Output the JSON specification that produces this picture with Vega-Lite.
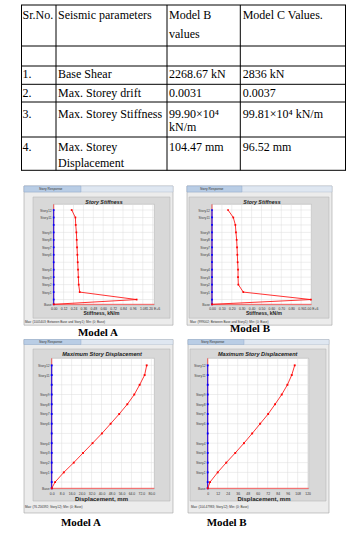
{
"$schema": "https://vega.github.io/schema/vega-lite/v6.json",
"padding": {"left": 20, "top": 4, "right": 0, "bottom": 0},
"background": "white",
"config": {"view": {"stroke": null}, "font": "Liberation Sans",
 "axis": {"labelOverlap": false, "labelFlush": false, "grid": false, "ticks": false, "domain": false, "labelFontSize": 3.4, "labelColor": "#333", "labelBound": false, "tickCount": 40}},
"datasets": {
"resp": [
{"m":"SA","story":"Base","level":0,"v":0,"vy":0},
{"m":"SA","story":"Plinth","level":0.64,"v":1005403,"vy":0},
{"m":"SA","story":"Story1","level":1.64,"v":315000,"vy":0},
{"m":"SA","story":"Story2","level":2.64,"v":303000,"vy":0},
{"m":"SA","story":"Story3","level":3.64,"v":299000,"vy":0},
{"m":"SA","story":"Story4","level":4.64,"v":295000,"vy":0},
{"m":"SA","story":"Story5","level":5.64,"v":291000,"vy":0},
{"m":"SA","story":"Story6","level":6.64,"v":287000,"vy":0},
{"m":"SA","story":"Story7","level":7.64,"v":283000,"vy":0},
{"m":"SA","story":"Story8","level":8.64,"v":279000,"vy":0},
{"m":"SA","story":"Story9","level":9.64,"v":275000,"vy":0},
{"m":"SA","story":"Story10","level":10.64,"v":267000,"vy":0},
{"m":"SA","story":"Story11","level":11.64,"v":263000,"vy":0},
{"m":"SA","story":"Story12","level":12.64,"v":218000,"vy":0},
{"m":"SB","story":"Base","level":0,"v":0,"vy":0},
{"m":"SB","story":"Plinth","level":0.64,"v":999002,"vy":0},
{"m":"SB","story":"Story1","level":1.64,"v":316000,"vy":0},
{"m":"SB","story":"Story2","level":2.64,"v":266000,"vy":0},
{"m":"SB","story":"Story3","level":3.64,"v":263000,"vy":0},
{"m":"SB","story":"Story4","level":4.64,"v":263000,"vy":0},
{"m":"SB","story":"Story5","level":5.64,"v":259000,"vy":0},
{"m":"SB","story":"Story6","level":6.64,"v":256000,"vy":0},
{"m":"SB","story":"Story7","level":7.64,"v":253000,"vy":0},
{"m":"SB","story":"Story8","level":8.64,"v":249000,"vy":0},
{"m":"SB","story":"Story9","level":9.64,"v":242000,"vy":0},
{"m":"SB","story":"Story10","level":10.64,"v":236000,"vy":0},
{"m":"SB","story":"Story11","level":11.64,"v":215000,"vy":0},
{"m":"SB","story":"Story12","level":12.64,"v":162000,"vy":0},
{"m":"DA","story":"Base","level":0,"v":0,"vy":0},
{"m":"DA","story":"Plinth","level":0.64,"v":2.7,"vy":0},
{"m":"DA","story":"Story1","level":1.64,"v":9.7,"vy":0},
{"m":"DA","story":"Story2","level":2.64,"v":17.7,"vy":0},
{"m":"DA","story":"Story3","level":3.64,"v":25.2,"vy":0},
{"m":"DA","story":"Story4","level":4.64,"v":32.8,"vy":0},
{"m":"DA","story":"Story5","level":5.64,"v":40.3,"vy":0},
{"m":"DA","story":"Story6","level":6.64,"v":47.3,"vy":0},
{"m":"DA","story":"Story7","level":7.64,"v":54.2,"vy":0},
{"m":"DA","story":"Story8","level":8.64,"v":60.7,"vy":0},
{"m":"DA","story":"Story9","level":9.64,"v":66.3,"vy":0},
{"m":"DA","story":"Story10","level":10.64,"v":70.6,"vy":0},
{"m":"DA","story":"Story11","level":11.64,"v":74.6,"vy":0},
{"m":"DA","story":"Story12","level":12.64,"v":76.256,"vy":0},
{"m":"DB","story":"Base","level":0,"v":0,"vy":0},
{"m":"DB","story":"Plinth","level":0.64,"v":2.8,"vy":0},
{"m":"DB","story":"Story1","level":1.64,"v":12.0,"vy":0},
{"m":"DB","story":"Story2","level":2.64,"v":22.3,"vy":0},
{"m":"DB","story":"Story3","level":3.64,"v":33.1,"vy":0},
{"m":"DB","story":"Story4","level":4.64,"v":43.5,"vy":0},
{"m":"DB","story":"Story5","level":5.64,"v":53.4,"vy":0},
{"m":"DB","story":"Story6","level":6.64,"v":63.0,"vy":0},
{"m":"DB","story":"Story7","level":7.64,"v":72.6,"vy":0},
{"m":"DB","story":"Story8","level":8.64,"v":80.9,"vy":0},
{"m":"DB","story":"Story9","level":9.64,"v":88.9,"vy":0},
{"m":"DB","story":"Story10","level":10.64,"v":95.7,"vy":0},
{"m":"DB","story":"Story11","level":11.64,"v":100.9,"vy":0},
{"m":"DB","story":"Story12","level":12.64,"v":104.479,"vy":0}
],
"cells": [
{"t":"Sr.No.","cx":1.5,"ly":10},
{"t":"Seismic parameters","cx":37,"ly":10},
{"t":"Model B","cx":148,"ly":10},
{"t":"values","cx":148,"ly":29.3},
{"t":"Model C Values.","cx":221.7,"ly":10},
{"t":"1.","cx":1.5,"ly":69.3},
{"t":"Base Shear","cx":37,"ly":69.3},
{"t":"2268.67 kN","cx":148,"ly":69.3},
{"t":"2836 kN","cx":221.7,"ly":69.3},
{"t":"2.","cx":1.5,"ly":87.7},
{"t":"Max. Storey drift","cx":37,"ly":87.7},
{"t":"0.0031","cx":148,"ly":87.7},
{"t":"0.0037","cx":221.7,"ly":87.7},
{"t":"3.","cx":1.5,"ly":108.5},
{"t":"Max. Storey Stiffness","cx":37,"ly":108.5},
{"t":"99.90×10⁴","cx":148,"ly":108.5},
{"t":"kN/m","cx":148,"ly":122},
{"t":"99.81×10⁴ kN/m","cx":221.7,"ly":108.5},
{"t":"4.","cx":1.5,"ly":141.7},
{"t":"Max. Storey","cx":37,"ly":141.7},
{"t":"Displacement","cx":37,"ly":157.7},
{"t":"104.47 mm","cx":148,"ly":141.7},
{"t":"96.52 mm","cx":221.7,"ly":141.7}
],
"hlines": [{"e":0},{"e":41},{"e":61},{"e":79.3},{"e":97},{"e":132},{"e":165.3}],
"vlines": [{"e":0.5},{"e":35},{"e":146},{"e":219.3},{"e":324.5}]
},
"bounds": "flush",
"spacing": 10,
"vconcat": [
{
"width": 325, "height": 166,
"layer": [
{"data": {"name": "hlines"}, "mark": {"type": "rule", "color": "black", "strokeWidth": 1},
 "encoding": {"y": {"field": "e", "type": "quantitative", "scale": {"domain": [0, 166], "reverse": true, "nice": false, "zero": false}, "axis": null},
  "x": {"datum": 0, "type": "quantitative", "scale": {"domain": [0, 325], "nice": false, "zero": false}, "axis": null}, "x2": {"datum": 325}}},
{"data": {"name": "vlines"}, "mark": {"type": "rule", "color": "black", "strokeWidth": 1},
 "encoding": {"x": {"field": "e", "type": "quantitative", "axis": null},
  "y": {"datum": 0, "type": "quantitative", "axis": null}, "y2": {"datum": 165.3}}},
{"data": {"name": "cells"}, "mark": {"type": "text", "align": "left", "baseline": "middle", "font": "Liberation Serif", "fontSize": 12, "color": "black"},
 "encoding": {"x": {"field": "cx", "type": "quantitative", "axis": null}, "y": {"field": "ly", "type": "quantitative", "axis": null}, "text": {"field": "t"}}}
]
},
{
"spacing": 0,
"vconcat": [
{
"bounds": "flush",
"spacing": 0,
"hconcat": [
{
"width": 160, "height": 158,
"layer": [
{"data": {"values": [{}]}, "mark": {"type": "rect", "fill": "#ececec", "stroke": "#a3a3a3", "strokeWidth": 0.6},
 "encoding": {"x": {"datum": -360000, "type": "quantitative", "scale": {"domain": [-396364, 1543030], "nice": false, "zero": false}}, "x2": {"datum": 1446061},
  "y": {"datum": 15.856, "type": "quantitative", "scale": {"domain": [-4.646, 16.526], "nice": false, "zero": false}}, "y2": {"datum": -2.791}}},
{"data": {"values": [{}]}, "mark": {"type": "rect", "fill": "#d8d8d8", "stroke": "#b0b0b0", "strokeWidth": 0.5},
 "encoding": {"x": {"datum": -250909, "type": "quantitative"}, "x2": {"datum": 1409697}, "y": {"datum": 14.382, "type": "quantitative"}, "y2": {"datum": -1.853}}},
{"data": {"values": [{}]}, "mark": {"type": "rect", "fill": "#dfe7f1", "stroke": "#a9b8c9", "strokeWidth": 0.4},
 "encoding": {"x": {"datum": -360000, "type": "quantitative"}, "x2": {"datum": 1446061}, "y": {"datum": 15.856, "type": "quantitative"}, "y2": {"datum": 15.052}}},
{"data": {"values": [{}]}, "mark": {"type": "rect", "fill": "#b9cde5", "stroke": "#8aa4c4", "strokeWidth": 0.4},
 "encoding": {"x": {"datum": -360000, "type": "quantitative"}, "x2": {"datum": 330909}, "y": {"datum": 15.856, "type": "quantitative"}, "y2": {"datum": 15.052}}},
{"data": {"values": [{}]}, "mark": {"type": "text", "text": "Story Response", "fontSize": 3.3, "color": "#333", "align": "left", "baseline": "middle"},
 "encoding": {"x": {"datum": -178182, "type": "quantitative"}, "y": {"datum": 15.45, "type": "quantitative"}}},
{"data": {"values": [{}]}, "mark": {"type": "rect", "fill": "white", "stroke": "#9a9a9a", "strokeWidth": 0.4},
 "encoding": {"x": {"datum": 0, "type": "quantitative"}, "x2": {"datum": 1219394}, "y": {"datum": -0.09, "type": "quantitative"}, "y2": {"datum": 13.403}}},
{"data": {"values": [{"t":0},{"t":120000},{"t":240000},{"t":360000},{"t":480000},{"t":600000},{"t":720000},{"t":840000},{"t":960000},{"t":1080000},{"t":1200000}]},
 "mark": {"type": "rule", "color": "#dcdcdc", "strokeWidth": 0.5},
 "encoding": {"x": {"field": "t", "type": "quantitative"}, "y": {"datum": -0.09, "type": "quantitative"}, "y2": {"datum": 13.403}}},
{"data": {"name": "resp"}, "transform": [{"filter": "datum.m == 'SA'"}], "mark": {"type": "rule", "color": "#dcdcdc", "strokeWidth": 0.5},
 "encoding": {"y": {"field": "level", "type": "quantitative"}, "x": {"datum": 0, "type": "quantitative"}, "x2": {"datum": 1219394}}},
{"data": {"values": [{}]}, "mark": {"type": "rule", "color": "red", "strokeWidth": 0.6},
 "encoding": {"x": {"datum": 0, "type": "quantitative"}, "y": {"datum": 0, "type": "quantitative"}, "y2": {"datum": 13.403}}},
{"data": {"values": [{}]}, "mark": {"type": "rule", "color": "red", "strokeWidth": 0.6},
 "encoding": {"y": {"datum": 0, "type": "quantitative"}, "x": {"datum": 0, "type": "quantitative"}, "x2": {"datum": 1219394}}},
{"data": {"name": "resp"}, "transform": [{"filter": "datum.m == 'SA'"}], "mark": {"type": "line", "color": "#0000ff", "strokeWidth": 0.9},
 "encoding": {"x": {"field": "vy", "type": "quantitative"}, "y": {"field": "level", "type": "quantitative"}, "order": {"field": "level"}}},
{"data": {"name": "resp"}, "transform": [{"filter": "datum.m == 'SA'"}], "mark": {"type": "point", "shape": "square", "filled": true, "size": 3, "color": "#0000ff", "opacity": 1},
 "encoding": {"x": {"field": "vy", "type": "quantitative"}, "y": {"field": "level", "type": "quantitative"}}},
{"data": {"name": "resp"}, "transform": [{"filter": "datum.m == 'SA'"}], "mark": {"type": "line", "color": "#ff0000", "strokeWidth": 0.8},
 "encoding": {
  "x": {"field": "v", "type": "quantitative", "axis": {"values": [0,120000,240000,360000,480000,600000,720000,840000,960000,1080000,1200000], "tickCount": 40, "labelExpr": "format(datum.value/1000000, '.2f') + (datum.value > 1190000 ? ' E+6' : '')", "title": "Stiffness, kN/m", "offset": -34, "labelOverlap": false, "labelPadding": 1, "titleFontSize": 5, "titleFontWeight": "bold", "titleColor": "#222", "titlePadding": 1.5, "zindex": 2}},
  "y": {"field": "level", "type": "quantitative", "axis": {"values": [0,1.64,2.64,3.64,4.64,6.64,7.64,8.64,9.64,11.64,12.64], "tickCount": 40, "labelExpr": "datum.value < 0.5 ? 'Base' : 'Story' + round(datum.value - 0.64)", "title": null, "offset": -32.7, "labelOverlap": false, "labelPadding": 2.5, "labelColor": "#444", "zindex": 2}},
  "order": {"field": "level"}}},
{"data": {"name": "resp"}, "transform": [{"filter": "datum.m == 'SA'"}], "mark": {"type": "point", "shape": "square", "filled": true, "size": 3, "color": "#ff0000", "opacity": 1},
 "encoding": {"x": {"field": "v", "type": "quantitative"}, "y": {"field": "level", "type": "quantitative"}}},
{"data": {"values": [{}]}, "mark": {"type": "text", "text": "Story Stiffness", "fontSize": 5.3, "fontWeight": "bold", "fontStyle": "italic", "color": "#222", "align": "center", "baseline": "middle"},
 "encoding": {"x": {"datum": 609697, "type": "quantitative"}, "y": {"datum": 13.712, "type": "quantitative"}}},
{"data": {"values": [{}]}, "mark": {"type": "text", "text": "Max: (1005403; Between Base and Story1);  Min: (0; Base)", "fontSize": 3.1, "color": "#333", "align": "left", "baseline": "middle"},
 "encoding": {"x": {"datum": -347879, "type": "quantitative"}, "y": {"datum": -2.322, "type": "quantitative"}}},
{"data": {"values": [{}]}, "mark": {"type": "text", "text": "Model A", "font": "Liberation Serif", "fontSize": 11, "fontWeight": "bold", "color": "black", "align": "center", "baseline": "middle"},
 "encoding": {"x": {"datum": 536970, "type": "quantitative"}, "y": {"datum": -3.801, "type": "quantitative"}}}
]
},
{
"width": 165, "height": 158,
"layer": [
{"data": {"values": [{}]}, "mark": {"type": "rect", "fill": "#ececec", "stroke": "#a3a3a3", "strokeWidth": 0.6},
 "encoding": {"x": {"datum": -252525, "type": "quantitative", "scale": {"domain": [-313131, 1353535], "nice": false, "zero": false}}, "x2": {"datum": 1212121},
  "y": {"datum": 15.856, "type": "quantitative", "scale": {"domain": [-4.646, 16.526], "nice": false, "zero": false}}, "y2": {"datum": -2.791}}},
{"data": {"values": [{}]}, "mark": {"type": "rect", "fill": "#d8d8d8", "stroke": "#b0b0b0", "strokeWidth": 0.5},
 "encoding": {"x": {"datum": -232323, "type": "quantitative"}, "x2": {"datum": 1181818}, "y": {"datum": 14.382, "type": "quantitative"}, "y2": {"datum": -1.853}}},
{"data": {"values": [{}]}, "mark": {"type": "rect", "fill": "#dfe7f1", "stroke": "#a9b8c9", "strokeWidth": 0.4},
 "encoding": {"x": {"datum": -252525, "type": "quantitative"}, "x2": {"datum": 1212121}, "y": {"datum": 15.856, "type": "quantitative"}, "y2": {"datum": 15.052}}},
{"data": {"values": [{}]}, "mark": {"type": "rect", "fill": "#b9cde5", "stroke": "#8aa4c4", "strokeWidth": 0.4},
 "encoding": {"x": {"datum": -252525, "type": "quantitative"}, "x2": {"datum": 303030}, "y": {"datum": 15.856, "type": "quantitative"}, "y2": {"datum": 15.052}}},
{"data": {"values": [{}]}, "mark": {"type": "text", "text": "Story Response", "fontSize": 3.3, "color": "#333", "align": "left", "baseline": "middle"},
 "encoding": {"x": {"datum": -121212, "type": "quantitative"}, "y": {"datum": 15.45, "type": "quantitative"}}},
{"data": {"values": [{}]}, "mark": {"type": "rect", "fill": "white", "stroke": "#9a9a9a", "strokeWidth": 0.4},
 "encoding": {"x": {"datum": 0, "type": "quantitative"}, "x2": {"datum": 1005000}, "y": {"datum": -0.09, "type": "quantitative"}, "y2": {"datum": 13.403}}},
{"data": {"values": [{"t":0},{"t":100000},{"t":200000},{"t":300000},{"t":400000},{"t":500000},{"t":600000},{"t":700000},{"t":800000},{"t":900000},{"t":1000000}]},
 "mark": {"type": "rule", "color": "#dcdcdc", "strokeWidth": 0.5},
 "encoding": {"x": {"field": "t", "type": "quantitative"}, "y": {"datum": -0.09, "type": "quantitative"}, "y2": {"datum": 13.403}}},
{"data": {"name": "resp"}, "transform": [{"filter": "datum.m == 'SB'"}], "mark": {"type": "rule", "color": "#dcdcdc", "strokeWidth": 0.5},
 "encoding": {"y": {"field": "level", "type": "quantitative"}, "x": {"datum": 0, "type": "quantitative"}, "x2": {"datum": 1005000}}},
{"data": {"values": [{}]}, "mark": {"type": "rule", "color": "red", "strokeWidth": 0.6},
 "encoding": {"x": {"datum": 0, "type": "quantitative"}, "y": {"datum": 0, "type": "quantitative"}, "y2": {"datum": 13.403}}},
{"data": {"values": [{}]}, "mark": {"type": "rule", "color": "red", "strokeWidth": 0.6},
 "encoding": {"y": {"datum": 0, "type": "quantitative"}, "x": {"datum": 0, "type": "quantitative"}, "x2": {"datum": 1005000}}},
{"data": {"name": "resp"}, "transform": [{"filter": "datum.m == 'SB'"}], "mark": {"type": "line", "color": "#0000ff", "strokeWidth": 0.9},
 "encoding": {"x": {"field": "vy", "type": "quantitative"}, "y": {"field": "level", "type": "quantitative"}, "order": {"field": "level"}}},
{"data": {"name": "resp"}, "transform": [{"filter": "datum.m == 'SB'"}], "mark": {"type": "point", "shape": "square", "filled": true, "size": 3, "color": "#0000ff", "opacity": 1},
 "encoding": {"x": {"field": "vy", "type": "quantitative"}, "y": {"field": "level", "type": "quantitative"}}},
{"data": {"name": "resp"}, "transform": [{"filter": "datum.m == 'SB'"}], "mark": {"type": "line", "color": "#ff0000", "strokeWidth": 0.8},
 "encoding": {
  "x": {"field": "v", "type": "quantitative", "axis": {"values": [0,100000,200000,300000,400000,500000,600000,700000,800000,900000,1000000], "tickCount": 40, "labelExpr": "format(datum.value/1000000, '.2f') + (datum.value > 990000 ? ' E+6' : '')", "title": "Stiffness, kN/m", "offset": -34, "labelOverlap": false, "labelPadding": 1, "titleFontSize": 5, "titleFontWeight": "bold", "titleColor": "#222", "titlePadding": 1.5, "zindex": 2}},
  "y": {"field": "level", "type": "quantitative", "axis": {"values": [0,1.64,2.64,3.64,4.64,6.64,7.64,8.64,9.64,11.64,12.64], "tickCount": 40, "labelExpr": "datum.value < 0.5 ? 'Base' : 'Story' + round(datum.value - 0.64)", "title": null, "offset": -31, "labelOverlap": false, "labelPadding": 2.5, "labelColor": "#444", "zindex": 2}},
  "order": {"field": "level"}}},
{"data": {"name": "resp"}, "transform": [{"filter": "datum.m == 'SB'"}], "mark": {"type": "point", "shape": "square", "filled": true, "size": 3, "color": "#ff0000", "opacity": 1},
 "encoding": {"x": {"field": "v", "type": "quantitative"}, "y": {"field": "level", "type": "quantitative"}}},
{"data": {"values": [{}]}, "mark": {"type": "text", "text": "Story Stiffness", "fontSize": 5.3, "fontWeight": "bold", "fontStyle": "italic", "color": "#222", "align": "center", "baseline": "middle"},
 "encoding": {"x": {"datum": 505051, "type": "quantitative"}, "y": {"datum": 13.712, "type": "quantitative"}}},
{"data": {"values": [{}]}, "mark": {"type": "text", "text": "Max: (999002; Between Base and Story1);  Min: (0; Base)", "fontSize": 3.1, "color": "#333", "align": "left", "baseline": "middle"},
 "encoding": {"x": {"datum": -222222, "type": "quantitative"}, "y": {"datum": -2.322, "type": "quantitative"}}},
{"data": {"values": [{}]}, "mark": {"type": "text", "text": "Model B", "font": "Liberation Serif", "fontSize": 11, "fontWeight": "bold", "color": "black", "align": "center", "baseline": "middle"},
 "encoding": {"x": {"datum": 383838, "type": "quantitative"}, "y": {"datum": -3.306, "type": "quantitative"}}}
]
}
]
},
{
"bounds": "flush",
"spacing": 0,
"hconcat": [
{
"width": 160, "height": 197,
"layer": [
{"data": {"values": [{}]}, "mark": {"type": "rect", "fill": "#ececec", "stroke": "#a3a3a3", "strokeWidth": 0.6},
 "encoding": {"x": {"datum": -22.236, "type": "quantitative", "scale": {"domain": [-24.645, 103.797], "nice": false, "zero": false}}, "x2": {"datum": 97.375},
  "y": {"datum": 15.294, "type": "quantitative", "scale": {"domain": [-4.899, 15.346], "nice": false, "zero": false}}, "y2": {"datum": -2.535}}},
{"data": {"values": [{}]}, "mark": {"type": "rect", "fill": "#d8d8d8", "stroke": "#b0b0b0", "strokeWidth": 0.5},
 "encoding": {"x": {"datum": -15.012, "type": "quantitative"}, "x2": {"datum": 94.967}, "y": {"datum": 14.32, "type": "quantitative"}, "y2": {"datum": -1.302}}},
{"data": {"values": [{}]}, "mark": {"type": "rect", "fill": "#dfe7f1", "stroke": "#a9b8c9", "strokeWidth": 0.4},
 "encoding": {"x": {"datum": -22.236, "type": "quantitative"}, "x2": {"datum": 97.375}, "y": {"datum": 15.294, "type": "quantitative"}, "y2": {"datum": 14.78}}},
{"data": {"values": [{}]}, "mark": {"type": "rect", "fill": "#b9cde5", "stroke": "#8aa4c4", "strokeWidth": 0.4},
 "encoding": {"x": {"datum": -22.236, "type": "quantitative"}, "x2": {"datum": 23.521}, "y": {"datum": 15.294, "type": "quantitative"}, "y2": {"datum": 14.78}}},
{"data": {"values": [{}]}, "mark": {"type": "text", "text": "Story Response", "fontSize": 3.3, "color": "#333", "align": "left", "baseline": "middle"},
 "encoding": {"x": {"datum": -10.195, "type": "quantitative"}, "y": {"datum": 15.037, "type": "quantitative"}}},
{"data": {"values": [{}]}, "mark": {"type": "rect", "fill": "white", "stroke": "#9a9a9a", "strokeWidth": 0.4},
 "encoding": {"x": {"datum": 0, "type": "quantitative"}, "x2": {"datum": 82.363}, "y": {"datum": -0.069, "type": "quantitative"}, "y2": {"datum": 13.362}}},
{"data": {"values": [{"t":0},{"t":8},{"t":16},{"t":24},{"t":32},{"t":40},{"t":48},{"t":56},{"t":64},{"t":72},{"t":80}]},
 "mark": {"type": "rule", "color": "#dcdcdc", "strokeWidth": 0.5},
 "encoding": {"x": {"field": "t", "type": "quantitative"}, "y": {"datum": -0.069, "type": "quantitative"}, "y2": {"datum": 13.362}}},
{"data": {"name": "resp"}, "transform": [{"filter": "datum.m == 'DA'"}], "mark": {"type": "rule", "color": "#dcdcdc", "strokeWidth": 0.5},
 "encoding": {"y": {"field": "level", "type": "quantitative"}, "x": {"datum": 0, "type": "quantitative"}, "x2": {"datum": 82.363}}},
{"data": {"values": [{}]}, "mark": {"type": "rule", "color": "red", "strokeWidth": 0.6},
 "encoding": {"x": {"datum": 0, "type": "quantitative"}, "y": {"datum": 0, "type": "quantitative"}, "y2": {"datum": 13.362}}},
{"data": {"values": [{}]}, "mark": {"type": "rule", "color": "red", "strokeWidth": 0.6},
 "encoding": {"y": {"datum": 0, "type": "quantitative"}, "x": {"datum": 0, "type": "quantitative"}, "x2": {"datum": 82.363}}},
{"data": {"name": "resp"}, "transform": [{"filter": "datum.m == 'DA'"}], "mark": {"type": "line", "color": "#0000ff", "strokeWidth": 0.9},
 "encoding": {"x": {"field": "vy", "type": "quantitative"}, "y": {"field": "level", "type": "quantitative"}, "order": {"field": "level"}}},
{"data": {"name": "resp"}, "transform": [{"filter": "datum.m == 'DA'"}], "mark": {"type": "point", "shape": "square", "filled": true, "size": 3.5, "color": "#0000ff", "opacity": 1},
 "encoding": {"x": {"field": "vy", "type": "quantitative"}, "y": {"field": "level", "type": "quantitative"}}},
{"data": {"name": "resp"}, "transform": [{"filter": "datum.m == 'DA'"}], "mark": {"type": "line", "color": "#ff0000", "strokeWidth": 0.8},
 "encoding": {
  "x": {"field": "v", "type": "quantitative", "axis": {"values": [0,8,16,24,32,40,48,56,64,72,80], "tickCount": 40, "format": ".1f", "title": "Displacement, mm", "offset": -47, "labelOverlap": false, "labelPadding": 2.5, "titleFontSize": 6, "titleFontWeight": "bold", "titleColor": "#222", "titlePadding": 0.8, "zindex": 2}},
  "y": {"field": "level", "type": "quantitative", "axis": {"values": [0,1.64,2.64,3.64,4.64,6.64,7.64,8.64,9.64,11.64,12.64], "tickCount": 40, "labelExpr": "datum.value < 0.5 ? 'Base' : 'Story' + round(datum.value - 0.64)", "title": null, "offset": -30.7, "labelOverlap": false, "labelPadding": 2.5, "labelColor": "#444", "zindex": 2}},
  "order": {"field": "level"}}},
{"data": {"name": "resp"}, "transform": [{"filter": "datum.m == 'DA'"}], "mark": {"type": "point", "shape": "square", "filled": true, "size": 3.5, "color": "#ff0000", "opacity": 1},
 "encoding": {"x": {"field": "v", "type": "quantitative"}, "y": {"field": "level", "type": "quantitative"}}},
{"data": {"values": [{}]}, "mark": {"type": "text", "text": "Maximum Story Displacement", "fontSize": 5.6, "fontWeight": "bold", "fontStyle": "italic", "color": "#222", "align": "center", "baseline": "middle"},
 "encoding": {"x": {"datum": 40.379, "type": "quantitative"}, "y": {"datum": 13.773, "type": "quantitative"}}},
{"data": {"values": [{}]}, "mark": {"type": "text", "text": "Max: (76.256392; Story12);  Min: (0; Base)", "fontSize": 3.1, "color": "#333", "align": "left", "baseline": "middle"},
 "encoding": {"x": {"datum": -21.434, "type": "quantitative"}, "y": {"datum": -1.919, "type": "quantitative"}}},
{"data": {"values": [{}]}, "mark": {"type": "text", "text": "Model A", "font": "Liberation Serif", "fontSize": 11, "fontWeight": "bold", "color": "black", "align": "center", "baseline": "middle"},
 "encoding": {"x": {"datum": 23.521, "type": "quantitative"}, "y": {"datum": -3.563, "type": "quantitative"}}}
]
},
{
"width": 165, "height": 197,
"layer": [
{"data": {"values": [{}]}, "mark": {"type": "rect", "fill": "#ececec", "stroke": "#a3a3a3", "strokeWidth": 0.6},
 "encoding": {"x": {"datum": -23.655, "type": "quantitative", "scale": {"domain": [-32.061, 166.066], "nice": false, "zero": false}}, "x2": {"datum": 145.653},
  "y": {"datum": 15.294, "type": "quantitative", "scale": {"domain": [-4.899, 15.346], "nice": false, "zero": false}}, "y2": {"datum": -2.535}}},
{"data": {"values": [{}]}, "mark": {"type": "rect", "fill": "#d8d8d8", "stroke": "#b0b0b0", "strokeWidth": 0.5},
 "encoding": {"x": {"datum": -21.254, "type": "quantitative"}, "x2": {"datum": 142.051}, "y": {"datum": 14.32, "type": "quantitative"}, "y2": {"datum": -1.302}}},
{"data": {"values": [{}]}, "mark": {"type": "rect", "fill": "#dfe7f1", "stroke": "#a9b8c9", "strokeWidth": 0.4},
 "encoding": {"x": {"datum": -23.655, "type": "quantitative"}, "x2": {"datum": 145.653}, "y": {"datum": 15.294, "type": "quantitative"}, "y2": {"datum": 14.78}}},
{"data": {"values": [{}]}, "mark": {"type": "rect", "fill": "#b9cde5", "stroke": "#8aa4c4", "strokeWidth": 0.4},
 "encoding": {"x": {"datum": -23.655, "type": "quantitative"}, "x2": {"datum": 43.588}, "y": {"datum": 15.294, "type": "quantitative"}, "y2": {"datum": 14.78}}},
{"data": {"values": [{}]}, "mark": {"type": "text", "text": "Story Response", "fontSize": 3.3, "color": "#333", "align": "left", "baseline": "middle"},
 "encoding": {"x": {"datum": -8.045, "type": "quantitative"}, "y": {"datum": 15.037, "type": "quantitative"}}},
{"data": {"values": [{}]}, "mark": {"type": "rect", "fill": "white", "stroke": "#9a9a9a", "strokeWidth": 0.4},
 "encoding": {"x": {"datum": 0, "type": "quantitative"}, "x2": {"datum": 121.278}, "y": {"datum": -0.069, "type": "quantitative"}, "y2": {"datum": 13.362}}},
{"data": {"values": [{"t":0},{"t":12},{"t":24},{"t":36},{"t":48},{"t":60},{"t":72},{"t":84},{"t":96},{"t":108},{"t":120}]},
 "mark": {"type": "rule", "color": "#dcdcdc", "strokeWidth": 0.5},
 "encoding": {"x": {"field": "t", "type": "quantitative"}, "y": {"datum": -0.069, "type": "quantitative"}, "y2": {"datum": 13.362}}},
{"data": {"name": "resp"}, "transform": [{"filter": "datum.m == 'DB'"}], "mark": {"type": "rule", "color": "#dcdcdc", "strokeWidth": 0.5},
 "encoding": {"y": {"field": "level", "type": "quantitative"}, "x": {"datum": 0, "type": "quantitative"}, "x2": {"datum": 121.278}}},
{"data": {"values": [{}]}, "mark": {"type": "rule", "color": "red", "strokeWidth": 0.6},
 "encoding": {"x": {"datum": 0, "type": "quantitative"}, "y": {"datum": 0, "type": "quantitative"}, "y2": {"datum": 13.362}}},
{"data": {"values": [{}]}, "mark": {"type": "rule", "color": "red", "strokeWidth": 0.6},
 "encoding": {"y": {"datum": 0, "type": "quantitative"}, "x": {"datum": 0, "type": "quantitative"}, "x2": {"datum": 121.278}}},
{"data": {"name": "resp"}, "transform": [{"filter": "datum.m == 'DB'"}], "mark": {"type": "line", "color": "#0000ff", "strokeWidth": 0.9},
 "encoding": {"x": {"field": "vy", "type": "quantitative"}, "y": {"field": "level", "type": "quantitative"}, "order": {"field": "level"}}},
{"data": {"name": "resp"}, "transform": [{"filter": "datum.m == 'DB'"}], "mark": {"type": "point", "shape": "square", "filled": true, "size": 3.5, "color": "#0000ff", "opacity": 1},
 "encoding": {"x": {"field": "vy", "type": "quantitative"}, "y": {"field": "level", "type": "quantitative"}}},
{"data": {"name": "resp"}, "transform": [{"filter": "datum.m == 'DB'"}], "mark": {"type": "line", "color": "#ff0000", "strokeWidth": 0.8},
 "encoding": {
  "x": {"field": "v", "type": "quantitative", "axis": {"values": [0,12,24,36,48,60,72,84,96,108,120], "tickCount": 40, "format": "d", "title": "Displacement, mm", "offset": -47, "labelOverlap": false, "labelPadding": 2.5, "titleFontSize": 6, "titleFontWeight": "bold", "titleColor": "#222", "titlePadding": 0.8, "zindex": 2}},
  "y": {"field": "level", "type": "quantitative", "axis": {"values": [0,1.64,2.64,3.64,4.64,6.64,7.64,8.64,9.64,11.64,12.64], "tickCount": 40, "labelExpr": "datum.value < 0.5 ? 'Base' : 'Story' + round(datum.value - 0.64)", "title": null, "offset": -26.7, "labelOverlap": false, "labelPadding": 2.5, "labelColor": "#444", "zindex": 2}},
  "order": {"field": "level"}}},
{"data": {"name": "resp"}, "transform": [{"filter": "datum.m == 'DB'"}], "mark": {"type": "point", "shape": "square", "filled": true, "size": 3.5, "color": "#ff0000", "opacity": 1},
 "encoding": {"x": {"field": "v", "type": "quantitative"}, "y": {"field": "level", "type": "quantitative"}}},
{"data": {"values": [{}]}, "mark": {"type": "text", "text": "Maximum Story Displacement", "fontSize": 5.6, "fontWeight": "bold", "fontStyle": "italic", "color": "#222", "align": "center", "baseline": "middle"},
 "encoding": {"x": {"datum": 60.038, "type": "quantitative"}, "y": {"datum": 13.773, "type": "quantitative"}}},
{"data": {"values": [{}]}, "mark": {"type": "text", "text": "Max: (104.47983; Story12);  Min: (0; Base)", "fontSize": 3.1, "color": "#333", "align": "left", "baseline": "middle"},
 "encoding": {"x": {"datum": -20.053, "type": "quantitative"}, "y": {"datum": -1.919, "type": "quantitative"}}},
{"data": {"values": [{}]}, "mark": {"type": "text", "text": "Model B", "font": "Liberation Serif", "fontSize": 11, "fontWeight": "bold", "color": "black", "align": "center", "baseline": "middle"},
 "encoding": {"x": {"datum": 22.815, "type": "quantitative"}, "y": {"datum": -3.563, "type": "quantitative"}}}
]
}
]
}
]
}
]
}
